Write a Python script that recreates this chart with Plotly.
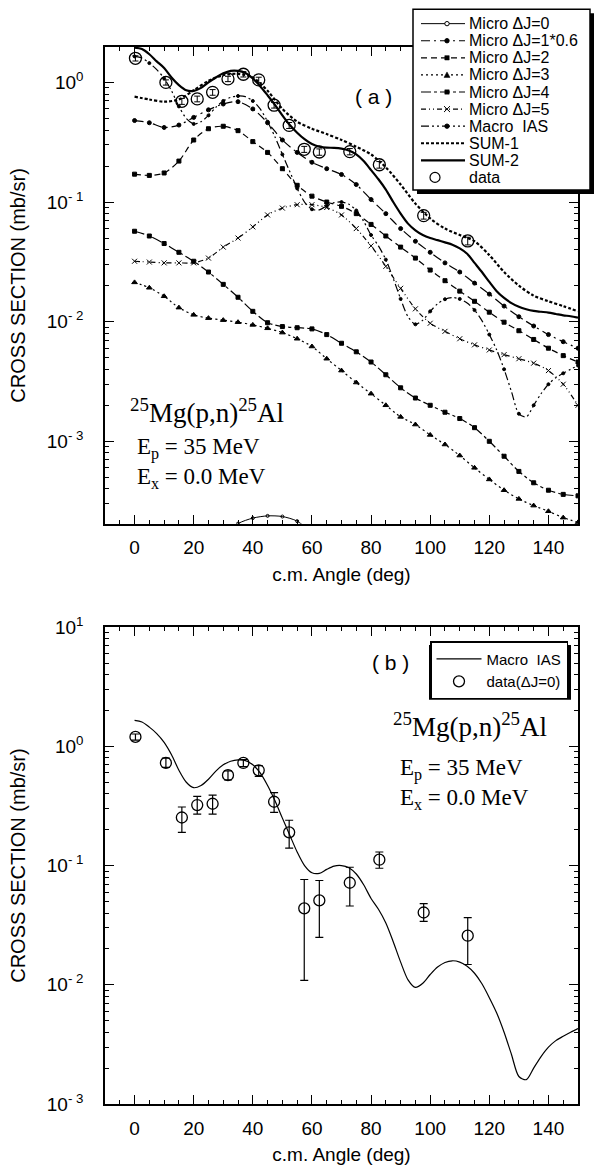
import plotly.graph_objects as go

# ---------------- data ----------------
ANG5 = [0, 5, 10, 15, 20, 25, 30, 35, 40, 45, 50, 55, 60, 65, 70, 75, 80, 85, 90, 95,
        100, 105, 110, 115, 120, 125, 130, 135, 140, 145, 150]
ANG25 = [0, 2.5, 5, 7.5, 10, 12.5, 15, 17.5, 20, 22.5, 25, 27.5, 30, 32.5, 35, 37.5, 40, 42.5,
         45, 47.5, 50, 52.5, 55, 57.5, 60, 62.5, 65, 67.5, 70, 72.5, 75, 77.5, 80, 82.5, 85,
         87.5, 90, 92.5, 95, 97.5, 100, 102.5, 105, 107.5, 110, 112.5, 115, 117.5, 120, 122.5,
         125, 127.5, 130, 132.5, 135, 137.5, 140, 142.5, 145, 147.5, 150]

# Micro dJ=0 (only the part near the bottom of the frame is visible)
ANG_DJ0 = [25, 30, 35, 40, 45, 50, 55, 60, 65]
MICRO_DJ0 = [0.00012, 0.00016, 0.000205, 0.000228, 0.000238, 0.000235, 0.000215, 0.00017, 0.00012]

MICRO_DJ1 = [0.48, 0.46, 0.42, 0.44, 0.51, 0.59, 0.66, 0.69, 0.60, 0.46, 0.33, 0.26, 0.215, 0.19,
             0.17, 0.14, 0.105, 0.08, 0.06, 0.047, 0.038, 0.031, 0.026, 0.021, 0.017, 0.0135,
             0.011, 0.0092, 0.0078, 0.0068, 0.006]
MICRO_DJ2 = [0.171, 0.167, 0.175, 0.22, 0.33, 0.41, 0.43, 0.395, 0.32, 0.26, 0.19, 0.138, 0.112,
             0.1, 0.092, 0.08, 0.065, 0.052, 0.042, 0.034, 0.027, 0.022, 0.018, 0.0148, 0.012,
             0.0099, 0.0084, 0.0071, 0.006, 0.0052, 0.0046]
MICRO_DJ3 = [0.0213, 0.0192, 0.0163, 0.0131, 0.0114, 0.0107, 0.0103, 0.0099, 0.0094, 0.0088,
             0.0081, 0.0072, 0.0062, 0.0049, 0.0039, 0.0031, 0.0025, 0.002, 0.0016, 0.00138,
             0.00113, 0.00094, 0.00076, 0.0006, 0.00048, 0.00039, 0.00033, 0.00029, 0.00026,
             0.00023, 0.00021]
MICRO_DJ4 = [0.057, 0.052, 0.045, 0.038, 0.032, 0.026, 0.0205, 0.016, 0.0122, 0.0098, 0.0091,
             0.0089, 0.0087, 0.0078, 0.0066, 0.0056, 0.0046, 0.0036, 0.0028, 0.0023, 0.002,
             0.00175, 0.00155, 0.0013, 0.001, 0.00075, 0.00056, 0.00045, 0.00039, 0.00036, 0.00035]
MICRO_DJ5 = [0.032, 0.0315, 0.031, 0.031, 0.031, 0.034, 0.042, 0.05, 0.062, 0.078, 0.089, 0.095,
             0.095, 0.09, 0.078, 0.06, 0.043, 0.029, 0.019, 0.0128, 0.0097, 0.0083, 0.0072,
             0.0064, 0.0058, 0.0053, 0.0049, 0.0045, 0.0039, 0.003, 0.002]
SUM1 = [0.76, 0.72, 0.69, 0.72, 0.86, 1.03, 1.15, 1.18, 1.1, 0.85, 0.6, 0.47, 0.41, 0.37, 0.33,
        0.29, 0.25, 0.195, 0.14, 0.097, 0.073, 0.06, 0.053, 0.047, 0.036, 0.026, 0.02, 0.0165,
        0.0148, 0.0135, 0.0122]
MACRO_IAS = [1.65, 1.6, 1.45, 1.28, 1.08, 0.85, 0.63, 0.5, 0.45, 0.47, 0.53, 0.62, 0.7, 0.75,
             0.77, 0.76, 0.7, 0.6, 0.47, 0.35, 0.25, 0.18, 0.13, 0.1, 0.087, 0.086, 0.093, 0.099,
             0.1, 0.096, 0.085, 0.069, 0.053, 0.043, 0.033, 0.023, 0.0155, 0.011, 0.0095, 0.0103,
             0.0122, 0.0141, 0.0154, 0.0159, 0.0155, 0.0143, 0.0125, 0.0102, 0.0078, 0.0058,
             0.004, 0.0026, 0.0017, 0.0016, 0.002, 0.0025, 0.003, 0.0034, 0.0037, 0.004, 0.0043]
SUM2 = [1.95, 1.9, 1.72, 1.5, 1.32, 1.1, 0.95, 0.86, 0.85, 0.9, 1.0, 1.1, 1.19, 1.25, 1.25,
        1.2, 1.08, 0.93, 0.78, 0.65, 0.53, 0.44, 0.38, 0.335, 0.305, 0.29, 0.285, 0.284, 0.28,
        0.27, 0.25, 0.22, 0.185, 0.155, 0.127, 0.1, 0.08, 0.066, 0.058, 0.053, 0.05, 0.048,
        0.046, 0.044, 0.041, 0.037, 0.031, 0.026, 0.0215, 0.018, 0.0158, 0.0143, 0.0133,
        0.0127, 0.0123, 0.0121, 0.0119, 0.0116, 0.0113, 0.0111, 0.0108]

DATA_ANG = [0.3, 10.6, 16.0, 21.2, 26.4, 31.6, 36.8, 42.0, 47.2, 52.3, 57.4, 62.5, 72.8, 82.8,
            97.8, 112.7]
DATA_A = [1.59, 1.0, 0.695, 0.728, 0.826, 1.07, 1.17, 1.05, 0.645, 0.437, 0.276, 0.262, 0.264,
          0.205, 0.077, 0.0473]
DATA_A_ERR = [0.08, 0.05, 0.04, 0.04, 0.045, 0.055, 0.06, 0.055, 0.035, 0.025, 0.016, 0.016,
              0.016, 0.013, 0.005, 0.0035]
DATA_B = [1.2, 0.726, 0.253, 0.322, 0.33, 0.573, 0.726, 0.63, 0.343, 0.19, 0.0438, 0.051,
          0.0718, 0.112, 0.0404, 0.0258]
DATA_B_ERR_UP = [0.07, 0.07, 0.057, 0.058, 0.06, 0.05, 0.05, 0.06, 0.067, 0.05, 0.0326, 0.024,
                 0.025, 0.018, 0.0076, 0.0108]
DATA_B_ERR_DN = [0.07, 0.06, 0.063, 0.052, 0.06, 0.05, 0.05, 0.07, 0.063, 0.05, 0.0329, 0.026,
                 0.026, 0.017, 0.0064, 0.011]

X_TICKS = [0, 20, 40, 60, 80, 100, 120, 140]
Y_TICKS_A = [1e-3, 1e-2, 1e-1, 1]
Y_TEXT_A = ["10<sup>- 3</sup>", "10<sup>- 2</sup>", "10<sup>- 1</sup>", "10<sup>0</sup>"]
Y_TICKS_B = [1e-3, 1e-2, 1e-1, 1, 10]
Y_TEXT_B = ["10<sup>- 3</sup>", "10<sup>- 2</sup>", "10<sup>- 1</sup>", "10<sup>0</sup>",
            "10<sup>1</sup>"]

# ---------------- styles ----------------
# name: (label, dash, width, marker symbol, marker size)
STYLE = {
    "dj0": ("Micro \u0394J=0", "solid", 1.0, "circle-open", 3),
    "dj1": ("Micro \u0394J=1*0.6", "9px,4px,2px,4px", 1.2, "circle", 4),
    "dj2": ("Micro \u0394J=2", "6px,4px", 1.2, "square", 4),
    "dj3": ("Micro \u0394J=3", "2px,3px", 1.2, "triangle-up", 5),
    "dj4": ("Micro \u0394J=4", "10px,3px,3px,3px", 1.2, "square", 4),
    "dj5": ("Micro \u0394J=5", "5px,3px,1px,3px,1px,3px", 1.2, "x-thin", 5),
    "ias": ("Macro\u00a0 IAS", "8px,3px,2px,3px,2px,3px", 1.2, "circle", 3),
    "sum1": ("SUM-1", "3px,2px", 2.2, None, 0),
    "sum2": ("SUM-2", "solid", 2.2, None, 0),
}

W, H = 596, 1174
ML, MR, MT, MB = 105, 18, 47, 63
PW, PH = W - ML - MR, H - MT - MB
SANS = "Liberation Sans, Arial, sans-serif"
SERIF = "Liberation Serif, Times New Roman, serif"


def px(x):
    return (x - ML) / PW


def py(y):
    return (H - MB - y) / PH


fig = go.Figure()


def curve(x, y, key, xa="x", ya="y", maxd=None):
    label, d, width, symbol, msize = STYLE[key]
    mode = "lines+markers" if symbol else "lines"
    marker = dict(symbol=symbol or "circle", size=msize, color="black",
                  line=dict(color="black", width=1))
    if maxd:
        marker["maxdisplayed"] = maxd
    fig.add_trace(go.Scatter(x=x, y=y, name=label, mode=mode, xaxis=xa, yaxis=ya,
                             line=dict(color="black", width=width, dash=d,
                                       shape="spline", smoothing=0.8),
                             marker=marker, showlegend=False, cliponaxis=True))


curve(ANG_DJ0, MICRO_DJ0, "dj0")
curve(ANG5, MICRO_DJ1, "dj1")
curve(ANG5, MICRO_DJ2, "dj2")
curve(ANG5, MICRO_DJ3, "dj3")
curve(ANG5, MICRO_DJ4, "dj4")
curve(ANG5, MICRO_DJ5, "dj5")
curve(ANG25, MACRO_IAS, "ias", maxd=31)
curve(ANG5, SUM1, "sum1")
curve(ANG25, SUM2, "sum2")

fig.add_trace(go.Scatter(
    x=DATA_ANG, y=DATA_A, name="data", mode="markers", xaxis="x", yaxis="y",
    marker=dict(symbol="circle-open", size=12, color="black", line=dict(width=1.3)),
    error_y=dict(type="data", array=DATA_A_ERR, color="black", thickness=1, width=3),
    showlegend=False))

# panel (b)
fig.add_trace(go.Scatter(
    x=ANG25, y=MACRO_IAS, name="Macro\u00a0 IAS", mode="lines", xaxis="x2", yaxis="y2",
    line=dict(color="black", width=1.2, shape="spline", smoothing=0.8), legend="legend2"))
fig.add_trace(go.Scatter(
    x=DATA_ANG, y=DATA_B, name="data(\u0394J=0)", mode="markers", xaxis="x2", yaxis="y2",
    marker=dict(symbol="circle-open", size=11, color="black", line=dict(width=1.3)),
    error_y=dict(type="data", symmetric=False, array=DATA_B_ERR_UP,
                 arrayminus=DATA_B_ERR_DN, color="black", thickness=1.2, width=4),
    legend="legend2"))

axis_common = dict(showline=True, linecolor="black", linewidth=1.5, mirror="allticks",
                   ticks="inside", ticklen=9, tickwidth=1.2, tickcolor="black",
                   showgrid=False, zeroline=False,
                   tickfont=dict(family=SANS, size=19, color="black"))

xa = dict(axis_common, range=[-10, 150], tickmode="array", tickvals=X_TICKS,
          minor=dict(ticks="inside", ticklen=4, tickcolor="black", dtick=5, showgrid=False),
          title=dict(text="c.m. Angle (deg)", font=dict(family=SANS, size=19, color="black"),
                     standoff=10),
          ticklabelstandoff=6)
ya = dict(axis_common, type="log", tickmode="array",
          minor=dict(ticks="inside", ticklen=4, tickcolor="black", dtick="D1", showgrid=False),
          title=dict(text="CROSS SECTION (mb/sr)", font=dict(family=SANS, size=20, color="black"),
                     standoff=16),
          ticklabelstandoff=16)

dom_a = [(H - MB - 527) / PH, 1]
dom_b = [0, (H - MB - 631) / PH]

fig.update_layout(
    width=W, height=H, margin=dict(l=ML, r=MR, t=MT, b=MB),
    paper_bgcolor="white", plot_bgcolor="white",
    xaxis=dict(xa, domain=[0, 1], anchor="y"),
    yaxis=dict(ya, domain=dom_a, anchor="x", range=[-3.69, 0.296],
               tickvals=Y_TICKS_A, ticktext=Y_TEXT_A),
    xaxis2=dict(xa, domain=[0, 1], anchor="y2"),
    yaxis2=dict(ya, domain=dom_b, anchor="x2", range=[-3, 1],
                tickvals=Y_TICKS_B, ticktext=Y_TEXT_B),
    legend2=dict(x=px(568), y=py(645), xanchor="right", yanchor="top", bgcolor="white",
                 bordercolor="black", borderwidth=1.5, itemwidth=45,
                 font=dict(family=SANS, size=15, color="black")),
    showlegend=True,
)

# ---------- legend box for panel (a) (drawn as a key) ----------
shapes = []


def rect(x0, y0, x1, y1, fill, lw=0):
    shapes.append(dict(type="rect", xref="paper", yref="paper", x0=px(x0), x1=px(x1),
                       y0=py(y1), y1=py(y0), fillcolor=fill, layer="above",
                       line=dict(color="black", width=lw)))


# panel (b) legend shadow
rect(429, 649, 571, 704, "black")
# panel (a) legend shadow + box
BX0, BY0, BX1, BY1 = 413, 9, 590, 191
rect(BX0 + 4, BY0 + 4, BX1 + 4, BY1 + 4, "black")
rect(BX0, BY0, BX1, BY1, "white", 1.5)

ROW0, ROWH = 23.5, 17.2
LX0, LX1, MX = 421, 465, 447
keys = ["dj0", "dj1", "dj2", "dj3", "dj4", "dj5", "ias", "sum1", "sum2"]
for i, k in enumerate(keys):
    label, dash, width, symbol, msize = STYLE[k]
    yy = ROW0 + i * ROWH
    shapes.append(dict(type="line", xref="paper", yref="paper", x0=px(LX0), x1=px(LX1),
                       y0=py(yy), y1=py(yy), layer="above",
                       line=dict(color="black", width=width, dash=dash)))
    if symbol:
        r = 2.2
        if symbol.startswith("circle"):
            shapes.append(dict(type="circle", xref="paper", yref="paper", x0=px(MX - r),
                               x1=px(MX + r), y0=py(yy + r), y1=py(yy - r), layer="above",
                               fillcolor="white" if symbol == "circle-open" else "black",
                               line=dict(color="black", width=1)))
        elif symbol == "square":
            shapes.append(dict(type="rect", xref="paper", yref="paper", x0=px(MX - r),
                               x1=px(MX + r), y0=py(yy + r), y1=py(yy - r), layer="above",
                               fillcolor="black", line=dict(color="black", width=0.5)))
        elif symbol == "triangle-up":
            path = "M %f,%f L %f,%f L %f,%f Z" % (px(MX - 3), py(yy + 2.5), px(MX + 3),
                                                   py(yy + 2.5), px(MX), py(yy - 3))
            shapes.append(dict(type="path", path=path, xref="paper", yref="paper",
                               layer="above", fillcolor="black",
                               line=dict(color="black", width=0.5)))
        else:
            for s in (1, -1):
                shapes.append(dict(type="line", xref="paper", yref="paper", x0=px(MX - 3),
                                   x1=px(MX + 3), y0=py(yy - 3 * s), y1=py(yy + 3 * s),
                                   layer="above", line=dict(color="black", width=1)))
    fig.add_annotation(text=label, x=px(467), y=py(yy), xref="paper", yref="paper",
                       xanchor="left", yanchor="middle", showarrow=False,
                       font=dict(family=SANS, size=16, color="black"))
# data row
yy = ROW0 + 9 * ROWH
shapes.append(dict(type="circle", xref="paper", yref="paper", x0=px(435 - 5), x1=px(435 + 5),
                   y0=py(yy + 5), y1=py(yy - 5), layer="above", fillcolor="white",
                   line=dict(color="black", width=1.2)))
fig.add_annotation(text="data", x=px(467), y=py(yy), xref="paper", yref="paper",
                   xanchor="left", yanchor="middle", showarrow=False,
                   font=dict(family=SANS, size=16, color="black"))

fig.update_layout(shapes=shapes)

anns = [
    ("( a )", 373, 97, SANS, 21, "center"),
    ("<sup>25</sup>Mg(p,n)<sup>25</sup>Al", 128, 413, SERIF, 27, "left"),
    ("E<sub>p</sub> = 35 MeV", 135, 451, SERIF, 23, "left"),
    ("E<sub>x</sub> = 0.0 MeV", 135, 481, SERIF, 23, "left"),
    ("( b )", 390, 667, SANS, 21, "center"),
    ("<sup>25</sup>Mg(p,n)<sup>25</sup>Al", 391, 729, SERIF, 27, "left"),
    ("E<sub>p</sub> = 35 MeV", 398, 774, SERIF, 23, "left"),
    ("E<sub>x</sub> = 0.0 MeV", 398, 804, SERIF, 23, "left"),
]
for text, x, y, fam, size, anchor in anns:
    fig.add_annotation(text=text, x=px(x), y=py(y), xref="paper", yref="paper",
                       xanchor=anchor, yanchor="middle", showarrow=False,
                       font=dict(family=fam, size=size, color="black"))

fig.write_html("out.html")
